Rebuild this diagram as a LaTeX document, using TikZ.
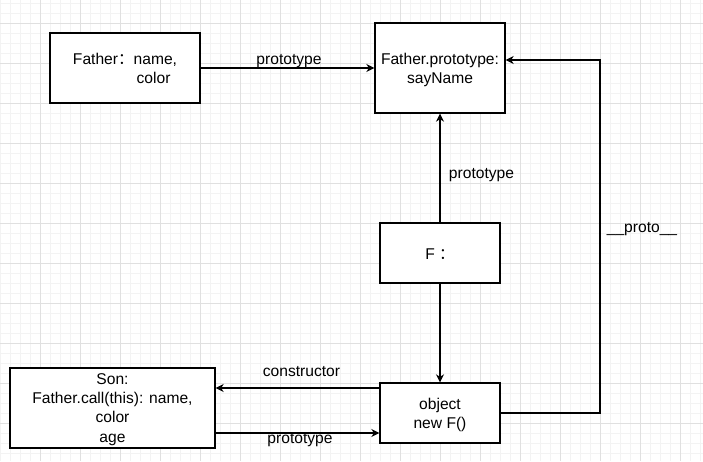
\documentclass[tikz,border=0pt]{standalone}
\usepackage{fontspec}
\setmainfont{Liberation Sans}
\newfontfamily\cjk{Noto Sans CJK SC}
\usetikzlibrary{arrows.meta}
\definecolor{gmajor}{HTML}{E0E0E0}
\definecolor{gminor}{HTML}{F3F3F3}
\tikzset{
  box/.style={draw=black, line width=1.3pt, fill=white, inner sep=0pt},
  lbl/.style={align=center, inner sep=0pt, font={\fontsize{15.6}{19.3}\selectfont}},
  arr/.style={draw=black, line width=1.3pt, -{Stealth[length=8pt,width=8pt,inset=2.5pt]}},
}
\begin{document}
\begin{tikzpicture}[x=1pt,y=-1pt]
\useasboundingbox (0,0) rectangle (703,461);
\fill[white] (0,0) rectangle (703,461);
% grid
\foreach \i in {0,...,70} {\draw[gminor, line width=0.8pt] (\i*10,0) -- (\i*10,461);}
\foreach \j in {0,...,45} {\draw[gminor, line width=0.8pt] (0,3.3+\j*10) -- (703,3.3+\j*10);}
\foreach \i in {1,...,17} {\draw[gmajor, line width=1pt] (\i*40,0) -- (\i*40,461);}
\foreach \j in {0,...,10} {\draw[gmajor, line width=1pt] (0,23.3+\j*40) -- (703,23.3+\j*40);}
% boxes
\node[box, minimum width=150pt, minimum height=70pt] (father) at (125,68) {};
\node[box, minimum width=130pt, minimum height=90pt] (fproto) at (440,68) {};
\node[box, minimum width=120pt, minimum height=60pt] (F) at (440,253) {};
\node[box, minimum width=120pt, minimum height=60pt] (obj) at (440,413) {};
\node[box, minimum width=205pt, minimum height=80pt] (son) at (112.5,408) {};
% box texts
\node[lbl] (fatherT) at ([yshift=-2pt]father.center)
  {\begin{tabular}{@{}l@{}l@{}}Father{\cjk ：}&name,\\&\hspace{3pt}color\end{tabular}};
\node[lbl] (fprotoT) at ([yshift=-2pt]fproto.center) {Father.prototype:\\sayName};
\node[lbl] (FT) at ([yshift=-1pt]F.center) {F {\cjk ：}};
\node[lbl] (objT) at ([yshift=-2pt]obj.center) {object\\new F()};
\node[lbl] (sonT) at ([yshift=-1.5pt]son.center) {Son:\\Father.call(this): name,\\color\\age};
% connectors
\draw[arr] (father.east) -- (fproto.west);
\draw[arr] (F.north) -- (fproto.south);
\draw[arr] (F.south) -- (obj.north);
\draw[arr] (obj.west |- 0,388) -- (son.east |- 0,388);
\draw[arr] (son.east |- 0,433) -- (obj.west |- 0,433);
\coordinate (c1) at (600,413);
\coordinate (c2) at (600,60);
\draw[arr] (obj.east) -- (c1) -- (c2) -- (fproto.east |- c2);
% labels
\node[lbl] (l1) at (289,61.5) {prototype};
\node[lbl] (l2) at (481.5,175.5) {prototype};
\node[lbl] (l3) at (301.5,371.5) {constructor};
\node[lbl] (l4) at (300,440.5) {prototype};
\node[lbl] (l5) at (642,229.5) {\_\_proto\_\_};
\end{tikzpicture}
\end{document}
